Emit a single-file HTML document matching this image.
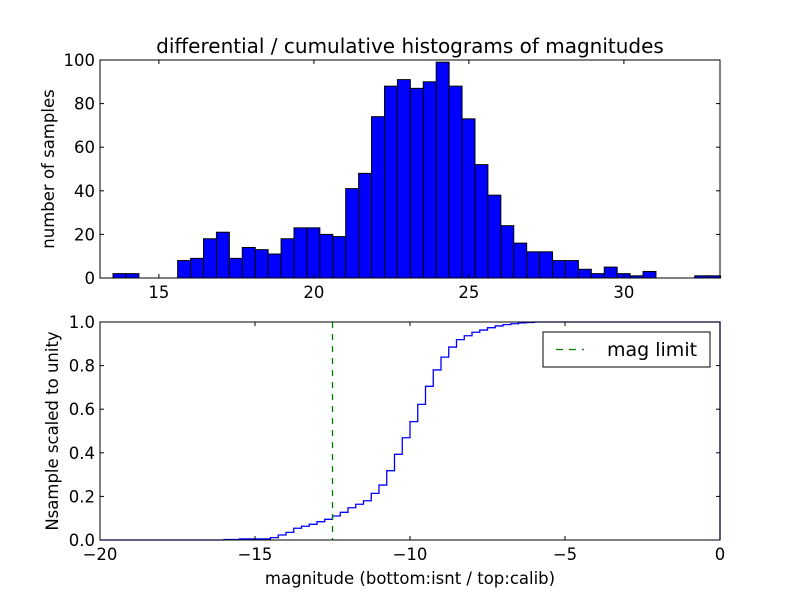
<!DOCTYPE html>
<html><head><meta charset="utf-8"><style>
body{margin:0;background:#fff}
svg{display:block;font-family:"DejaVu Sans","Liberation Sans",sans-serif}
</style></head><body>
<svg id="chart" width="800" height="600" viewBox="0 0 800 600">
<rect width="800" height="600" fill="#fff"/>
<text x="410" y="53" font-size="20" text-anchor="middle">differential / cumulative histograms of magnitudes</text>
<g id="topG"></g>
<g id="botG"></g>
<text x="54" y="169" font-size="16.5" text-anchor="middle" transform="rotate(-90 54 169)">number of samples</text>
<text x="58" y="431" font-size="16.5" text-anchor="middle" transform="rotate(-90 58 431)">Nsample scaled to unity</text>
<text x="410" y="584" font-size="16.5" text-anchor="middle">magnitude (bottom:isnt / top:calib)</text>
</svg>
<script>
const histCounts=[2,2,0,0,0,8,9,18,21,9,14,13,11,18,23,23,20,19,41,48,74,88,91,87,90,99,88,73,52,38,24,16,12,12,8,8,4,2,5,2,1,3,0,0,0,1,1];
const histStart=13.52, histBinWidth=0.417;
const topXTicks=[15,20,25,30];
const topYTicks=[0,20,40,60,80,100];
const cumValues=[0.002,0.002,0.005,0.005,0.005,0.005,0.011,0.023,0.035,0.054,0.063,0.072,0.084,0.095,0.110,0.127,0.148,0.164,0.180,0.214,0.252,0.318,0.393,0.469,0.543,0.622,0.705,0.780,0.839,0.885,0.919,0.937,0.953,0.963,0.974,0.982,0.988,0.992,0.996,0.998,1,1];
const cumStart=-16, cumBinWidth=0.25;
const magLimit=-12.5;
const botXTicks=[-20,-15,-10,-5,0];
const botYTicks=[0,0.2,0.4,0.6,0.8,1.0];
const NS='http://www.w3.org/2000/svg';
function mk(tag,attrs,parent){const e=document.createElementNS(NS,tag);for(const k in attrs)e.setAttribute(k,attrs[k]);parent.appendChild(e);return e;}
const L=100,R=720;
const tx=v=>L+(v-13.1)*31, ty=v=>278-v*2.18;
const topG=document.getElementById('topG');
histCounts.forEach((c,i)=>{if(c<=0)return;
 const x0=tx(histStart+i*histBinWidth),x1=tx(histStart+(i+1)*histBinWidth);
 const r=mk('rect',{x:x0,y:ty(c),width:x1-x0,height:ty(0)-ty(c),fill:'#0000ff',stroke:'#000','stroke-width':1},topG);
 
 
});
const tf=mk('rect',{x:L,y:60,width:R-L,height:218,fill:'none',stroke:'#000','stroke-width':1},topG);


topXTicks.forEach(v=>{const x=tx(v);
 mk('line',{x1:x,x2:x,y1:278,y2:274,stroke:'#000'},topG);mk('line',{x1:x,x2:x,y1:60,y2:64,stroke:'#000'},topG);
 const t=mk('text',{x:x,y:298,'font-size':16.5,'text-anchor':'middle'},topG);t.textContent=v;
 
 });
topYTicks.forEach(v=>{const y=ty(v);
 mk('line',{x1:L,x2:L+4,y1:y,y2:y,stroke:'#000'},topG);mk('line',{x1:R,x2:R-4,y1:y,y2:y,stroke:'#000'},topG);
 const t=mk('text',{x:L-5,y:y+6,'font-size':16.5,'text-anchor':'end'},topG);t.textContent=v;
 
 });
const bx=v=>L+(v+20)*31, by=v=>540-v*218;
const botG=document.getElementById('botG');
let d='M'+bx(-20)+','+by(0)+' L'+bx(cumStart)+','+by(0);
cumValues.forEach((v,i)=>{const x0=bx(cumStart+i*cumBinWidth),x1=bx(cumStart+(i+1)*cumBinWidth);d+=' L'+x0+','+by(v)+' L'+x1+','+by(v);});
d+=' L'+bx(0)+','+by(1)+' L'+bx(0)+','+by(0);
const cp=mk('path',{d:d,fill:'none',stroke:'#0000ff','stroke-width':1.3},botG);


const ml=mk('line',{x1:bx(magLimit),x2:bx(magLimit),y1:322,y2:540,stroke:'#008000','stroke-width':1.3,'stroke-dasharray':'6,6'},botG);


const bf=mk('rect',{x:L,y:322,width:R-L,height:218,fill:'none',stroke:'#000','stroke-width':1},botG);


botXTicks.forEach(v=>{const x=bx(v);
 mk('line',{x1:x,x2:x,y1:540,y2:536,stroke:'#000'},botG);mk('line',{x1:x,x2:x,y1:322,y2:326,stroke:'#000'},botG);
 const t=mk('text',{x:x,y:560,'font-size':16.5,'text-anchor':'middle'},botG);t.textContent=v<0?'\u2212'+(-v):v;
 
 });
botYTicks.forEach(v=>{const y=by(v);
 mk('line',{x1:L,x2:L+4,y1:y,y2:y,stroke:'#000'},botG);mk('line',{x1:R,x2:R-4,y1:y,y2:y,stroke:'#000'},botG);
 const t=mk('text',{x:L-5,y:y+6,'font-size':16.5,'text-anchor':'end'},botG);t.textContent=v.toFixed(1);
 
 });
const lg=mk('g',{},botG);


mk('rect',{x:543,y:332,width:167,height:35,fill:'#fff',stroke:'#000','stroke-width':1},lg);
mk('line',{x1:556,x2:584,y1:349.5,y2:349.5,stroke:'#008000','stroke-width':1.3,'stroke-dasharray':'7,6'},lg);
const lt=mk('text',{x:607,y:356,'font-size':19},lg);lt.textContent='mag limit';


</script>
</body></html>
